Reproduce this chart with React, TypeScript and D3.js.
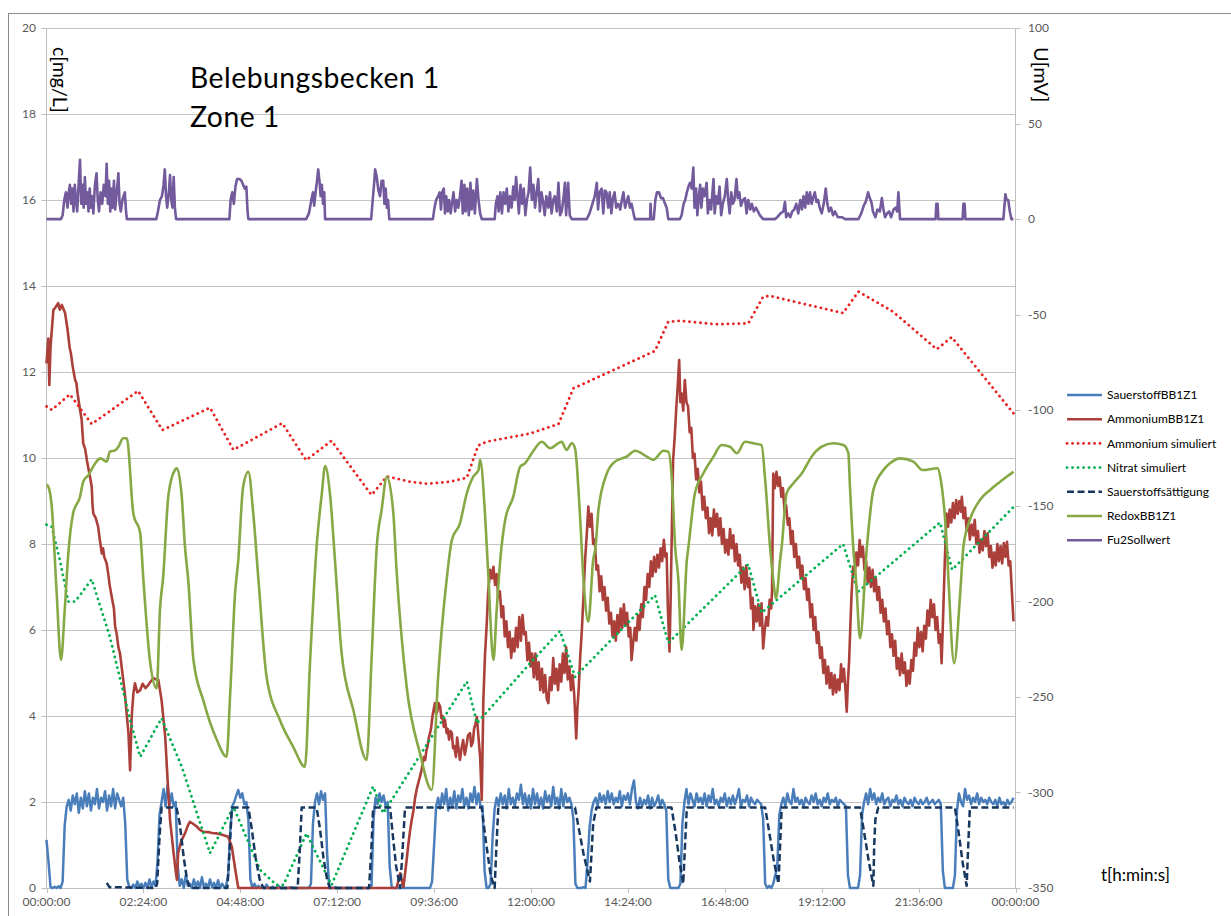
import React from 'react';
import * as d3 from 'd3';

// ---------- DATA ----------
const HOURS_STEP = 0.05; // Sauerstoff sampled every 3 min
const sauerstoffBB1Z1: number[] = [
  1.12,0.6,0.02,0.0,0.03,0.0,0.04,0.0,0.15,1.45,1.9,2.05,1.8,2.15,1.95,2.2,1.75,2.1,1.85,2.25,
  1.9,2.2,1.8,2.1,1.95,2.3,1.85,2.1,2.0,2.25,1.8,2.15,1.9,2.3,1.85,2.2,2.05,1.9,2.1,1.5,
  0.2,0.02,0.0,0.08,0.0,0.15,0.02,0.1,0.0,0.12,0.0,0.2,0.02,0.15,0.05,0.6,1.7,2.0,2.3,1.9,
  2.4,1.95,2.2,1.9,2.0,0.5,0.05,0.2,0.0,0.3,0.05,0.1,0.0,0.2,0.02,0.15,0.0,0.25,0.02,0.1,
  0.0,0.2,0.02,0.12,0.0,0.18,0.0,0.1,0.02,0.05,0.3,1.3,1.9,2.0,2.15,2.28,2.1,2.2,1.95,2.0,
  1.6,0.2,0.0,0.1,0.0,0.05,0.0,0.02,0.0,0.08,0.0,0.0,0.03,0.0,0.0,0.05,0.0,0.0,0.0,0.0,
  0.0,0.02,0.0,0.0,0.0,0.0,0.0,0.0,0.0,0.0,0.0,0.1,1.5,2.0,2.2,1.95,2.25,2.05,2.2,0.8,
  0.05,0.0,0.0,0.02,0.0,0.0,0.0,0.0,0.0,0.0,0.0,0.0,0.0,0.0,0.0,0.0,0.0,0.0,0.0,0.0,
  0.0,0.05,1.6,2.1,1.95,2.2,2.0,2.15,1.9,2.0,0.5,0.02,0.0,0.0,0.0,0.0,0.0,0.0,0.0,0.0,
  0.0,0.0,0.0,0.0,0.0,0.0,0.0,0.0,0.0,0.0,0.0,0.15,1.0,1.9,2.1,1.85,2.2,1.95,2.3,1.8,
  2.1,1.9,2.25,1.85,2.15,2.0,2.3,1.9,2.1,1.85,2.2,2.0,2.35,1.95,2.2,1.9,1.9,0.4,0.0,0.0,
  0.1,1.2,1.85,2.1,1.9,2.2,1.95,2.15,1.85,2.3,1.95,2.1,1.9,2.2,2.05,2.4,1.95,2.2,1.9,2.15,
  1.85,2.3,1.95,2.2,1.9,2.1,1.85,2.25,2.0,2.15,1.9,2.35,1.95,2.1,1.85,2.3,1.9,2.2,2.0,2.1,
  1.95,1.6,0.1,0.0,0.0,0.0,0.02,0.0,0.6,1.4,1.8,2.0,2.1,1.9,2.2,2.0,2.15,1.95,2.25,2.0,
  2.2,1.95,2.1,2.0,2.25,1.9,2.15,2.05,2.2,1.95,2.3,2.5,2.0,1.85,2.1,1.9,2.05,1.95,2.15,1.85,
  2.1,1.9,2.0,2.15,1.9,2.05,1.95,1.8,0.2,0.0,0.0,0.0,0.0,0.0,0.1,1.5,2.0,2.3,1.95,2.2,
  2.05,1.9,2.2,2.0,2.1,1.95,2.2,1.9,2.15,2.0,2.3,1.95,2.05,1.9,2.1,2.0,2.2,1.9,2.1,1.95,
  2.15,1.95,2.1,2.3,1.9,2.05,2.0,2.15,1.9,2.1,2.0,1.95,2.05,2.0,1.95,1.6,0.1,0.0,0.05,0.0,
  0.1,0.3,0.5,1.7,1.95,2.1,1.9,2.2,2.0,1.95,2.3,2.0,2.1,1.95,2.05,1.9,2.1,2.0,1.95,2.15,
  2.0,2.2,1.95,2.05,1.9,2.1,2.0,2.2,1.95,2.05,2.0,2.1,1.9,2.05,2.0,1.95,1.9,0.3,0.0,0.0,
  0.0,0.0,0.0,0.3,1.7,2.0,2.2,1.95,2.3,2.05,2.2,1.95,2.1,2.0,2.2,1.95,2.05,2.1,1.9,2.05,
  2.0,2.15,1.95,2.05,1.9,2.1,2.0,1.95,2.05,1.9,2.1,2.0,1.95,2.05,1.95,2.0,2.1,1.95,2.0,2.05,
  1.95,2.0,2.05,1.95,0.4,0.0,0.0,0.0,0.0,0.0,0.3,1.8,2.2,2.0,1.9,2.3,2.05,2.15,1.95,2.1,
  2.0,2.2,1.95,2.1,2.0,2.05,1.95,2.1,2.0,1.95,2.05,1.9,2.1,1.95,2.0,1.9,2.05,1.95,2.0,2.1,
];

// [hour, mg/L]
const ammoniumBB1Z1: [number, number][] = [
  [0.00,12.2],[0.045,12.78],[0.07,11.7],[0.10,12.59],[0.17,13.44],[0.22,13.5],[0.29,13.6],[0.33,13.45],[0.38,13.56],[0.46,13.37],[0.52,13.0],
  [0.57,12.59],[0.61,12.4],[0.65,12.12],[0.71,11.81],[0.74,11.75],[0.77,11.5],[0.83,11.12],[0.87,10.9],[0.91,10.34],[0.96,10.2],[1.00,9.95],[1.05,9.7],
  [1.09,9.5],[1.12,9.33],[1.14,8.9],[1.16,8.71],[1.22,8.6],[1.28,8.4],[1.32,8.1],[1.37,7.78],[1.40,7.9],[1.43,7.7],[1.49,7.55],[1.53,7.3],
  [1.57,7.01],[1.63,6.7],[1.67,6.5],[1.70,6.08],[1.74,5.9],[1.78,5.6],[1.82,5.46],[1.88,5.0],[1.94,4.53],[1.99,4.0],[2.03,3.6],
  [2.07,2.74],[2.11,3.98],[2.15,4.5],[2.19,4.76],[2.25,4.55],[2.32,4.6],[2.38,4.75],[2.45,4.65],[2.52,4.72],[2.58,4.8],
  [2.65,4.88],[2.71,4.85],[2.77,4.84],[2.85,4.37],[2.94,3.52],[3.00,2.5],[3.06,1.58],[3.14,0.88],[3.20,0.4],[3.23,0.19],
  [3.26,0.81],[3.34,1.1],[3.43,1.27],[3.50,1.45],[3.55,1.54],[3.62,1.5],[3.72,1.43],[3.80,1.35],[3.88,1.31],[4.00,1.3],
  [4.10,1.28],[4.22,1.27],[4.35,1.24],[4.50,1.19],[4.59,0.96],[4.68,0.4],[4.75,0.0],[8.67,0.0],[8.76,0.34],[8.84,0.02],
  [8.92,0.65],[8.96,1.0],[9.00,1.3],[9.04,1.55],[9.09,1.81],[9.13,2.1],[9.17,2.3],[9.21,2.45],[9.25,2.59],[9.29,2.75],[9.32,2.9],
  [9.35,3.05],[9.38,2.98],[9.41,3.2],[9.44,3.3],[9.47,3.5],[9.50,3.6],[9.53,3.75],[9.56,4.0],[9.59,4.15],[9.62,4.3],[9.65,4.05],
  [9.68,4.1],[9.71,4.3],[9.75,4.22],[9.78,3.95],[9.81,4.0],[9.84,3.75],[9.87,3.91],[9.91,3.6],[9.94,3.7],[9.97,3.45],[10.01,3.65],
  [10.04,3.6],[10.07,3.25],[10.10,3.3],[10.14,3.05],[10.17,3.5],[10.21,3.2],[10.24,2.98],[10.28,3.25],[10.32,3.44],[10.36,3.1],
  [10.40,3.3],[10.44,3.55],[10.49,3.6],[10.52,3.3],[10.56,3.4],[10.59,3.7],[10.62,3.8],[10.66,3.98],[10.70,3.5],[10.74,3.05],
  [10.78,2.05],[10.80,3.2],[10.82,4.37],[10.86,5.4],[10.90,6.08],[10.94,6.9],[10.99,7.40],[11.03,7.2],
  [11.07,7.47],[11.11,7.05],[11.15,7.3],[11.19,6.75],[11.23,6.9],[11.27,6.3],[11.31,6.55],[11.35,5.85],[11.39,6.2],[11.43,5.6],
  [11.47,5.95],[11.51,5.35],[11.55,5.8],[11.59,5.5],[11.63,6.05],[11.67,5.6],[11.71,6.3],[11.75,5.75],[11.79,6.35],[11.83,5.9],
  [11.87,5.95],[11.91,5.3],[11.95,5.7],[11.99,5.15],[12.03,5.45],[12.07,4.9],[12.11,5.45],[12.15,4.85],[12.19,5.25],[12.23,4.6],
  [12.27,5.1],[12.31,4.55],[12.35,4.95],[12.39,4.4],[12.43,4.3],[12.47,4.9],[12.51,4.6],[12.55,5.35],[12.59,4.75],[12.63,5.1],
  [12.67,4.6],[12.71,5.2],[12.75,4.8],[12.79,5.45],[12.83,5.0],[12.87,5.6],[12.91,4.85],[12.95,5.15],[12.99,4.6],[13.03,4.95],
  [13.07,4.5],[13.10,3.9],[13.12,3.48],[13.15,4.2],[13.18,4.6],[13.22,5.4],[13.26,6.0],[13.30,6.8],[13.34,7.63],[13.38,8.2],
  [13.42,8.87],[13.46,8.4],[13.50,8.7],[13.54,8.0],[13.58,8.1],[13.62,7.4],[13.66,7.5],[13.70,6.9],[13.74,7.25],[13.78,6.7],
  [13.82,7.0],[13.86,6.45],[13.90,6.75],[13.94,6.15],[13.98,6.4],[14.02,5.85],[14.06,6.2],[14.10,5.75],[14.14,6.35],[14.18,5.95],
  [14.22,6.5],[14.26,6.05],[14.30,6.6],[14.34,6.1],[14.38,6.4],[14.42,5.85],[14.46,6.05],[14.49,5.30],[14.53,5.7],[14.57,6.05],
  [14.61,5.75],[14.65,6.35],[14.69,6.0],[14.73,6.6],[14.77,6.3],[14.81,7.0],[14.85,6.7],[14.89,7.3],[14.93,7.0],[14.97,7.6],
  [15.01,7.25],[15.05,7.7],[15.09,7.35],[15.13,7.75],[15.17,7.45],[15.21,7.9],[15.25,7.6],[15.29,8.1],[15.33,7.7],[15.36,7.78],
  [15.39,6.5],[15.43,5.50],[15.46,6.8],[15.49,8.4],[15.52,9.95],[15.56,10.5],[15.60,11.19],[15.63,11.6],[15.67,12.28],[15.70,11.3],
  [15.73,11.50],[15.77,11.1],[15.81,11.81],[15.85,11.3],[15.89,11.2],[15.93,10.6],[15.97,10.7],[16.01,10.0],[16.05,10.1],[16.09,9.5],
  [16.13,9.75],[16.17,9.2],[16.21,9.45],[16.25,8.8],[16.29,9.1],[16.33,8.6],[16.37,8.85],[16.41,8.25],[16.45,8.6],[16.49,8.2],
  [16.53,8.8],[16.57,8.4],[16.61,8.7],[16.65,8.2],[16.69,8.6],[16.73,8.0],[16.77,8.35],[16.81,7.8],[16.85,8.1],[16.89,7.75],
  [16.93,8.35],[16.97,7.9],[17.01,8.2],[17.05,7.6],[17.09,8.0],[17.13,7.5],[17.17,7.75],[17.21,7.1],[17.25,7.45],[17.29,6.95],
  [17.33,7.5],[17.37,7.0],[17.41,7.2],[17.45,6.5],[17.49,6.75],[17.51,6.00],[17.55,6.55],[17.59,6.2],[17.63,6.6],[17.67,6.1],
  [17.71,6.62],[17.75,5.57],[17.79,6.0],[17.83,6.3],[17.87,6.1],[17.91,6.7],[17.95,6.5],[17.97,6.93],[18.00,9.64],[18.04,9.3],
  [18.08,9.68],[18.12,9.35],[18.16,9.55],[18.20,9.1],[18.24,9.3],[18.28,8.75],[18.32,8.9],[18.36,8.45],[18.40,8.6],[18.44,8.0],
  [18.48,8.3],[18.52,7.7],[18.56,8.0],[18.60,7.45],[18.64,7.7],[18.68,7.2],[18.72,7.5],[18.76,6.95],[18.80,7.2],[18.84,6.7],
  [18.88,6.95],[18.92,6.3],[18.96,6.6],[19.00,6.0],[19.04,6.3],[19.08,5.7],[19.12,5.95],[19.16,5.35],[19.20,5.6],[19.24,5.0],
  [19.28,5.3],[19.32,4.75],[19.36,5.15],[19.40,4.65],[19.44,5.0],[19.48,4.5],[19.52,4.95],[19.56,4.55],[19.60,4.85],[19.64,4.6],
  [19.68,5.2],[19.71,4.8],[19.75,5.1],[19.79,4.6],[19.82,4.10],[19.85,4.8],[19.88,5.30],[19.91,6.1],[19.94,6.85],[19.98,7.47],
  [20.02,7.3],[20.06,7.8],[20.10,7.5],[20.14,8.09],[20.18,7.7],[20.22,7.94],[20.26,7.4],[20.30,7.6],[20.34,7.1],[20.38,7.45],
  [20.42,7.0],[20.46,7.40],[20.50,6.9],[20.54,7.2],[20.58,6.7],[20.62,7.0],[20.66,6.4],[20.70,6.7],[20.74,6.2],[20.78,6.5],
  [20.82,5.9],[20.86,6.2],[20.90,5.6],[20.94,5.9],[20.98,5.4],[21.02,5.75],[21.06,5.1],[21.10,5.35],[21.14,4.95],[21.18,5.45],
  [21.22,5.0],[21.26,5.25],[21.30,4.7],[21.34,5.05],[21.38,4.75],[21.42,5.3],[21.46,5.05],[21.50,5.7],[21.54,5.4],[21.58,6.05],
  [21.62,5.6],[21.66,5.95],[21.70,5.5],[21.74,6.1],[21.78,5.8],[21.82,6.45],[21.86,6.1],[21.90,6.7],[21.94,6.3],[21.98,6.6],
  [22.02,6.0],[22.06,6.3],[22.10,5.7],[22.14,5.9],[22.17,5.23],[22.21,6.4],[22.25,7.63],[22.29,8.71],[22.33,8.4],[22.37,8.8],
  [22.41,8.5],[22.45,8.95],[22.49,8.6],[22.53,9.02],[22.57,8.7],[22.61,9.0],[22.65,8.75],[22.67,9.10],[22.71,8.6],[22.75,8.85],
  [22.79,8.3],[22.83,8.6],[22.87,8.1],[22.91,8.45],[22.95,8.2],[22.99,8.56],[23.03,8.0],[23.07,8.3],[23.11,7.8],[23.15,8.1],
  [23.19,7.85],[23.23,8.3],[23.27,7.95],[23.31,8.25],[23.35,7.7],[23.39,7.95],[23.43,7.45],[23.47,7.8],[23.51,7.5],[23.55,8.0],
  [23.59,7.6],[23.63,7.95],[23.67,7.55],[23.71,8.02],[23.75,7.7],[23.79,8.05],[23.83,7.5],[23.87,7.6],[23.91,6.9],[23.95,6.2],
];

const ammoniumSimuliert: [number, number][] = [
  [0.0,11.2],[0.13,11.12],[0.58,11.48],[1.12,10.79],[2.27,11.56],[2.87,10.65],[4.05,11.17],[4.63,10.19],[5.84,10.81],[6.43,9.95],
  [7.06,10.40],[8.05,9.14],[8.43,9.57],[9.0,9.45],[9.42,9.40],[10.0,9.45],[10.41,9.54],[10.69,10.29],[10.90,10.38],[11.98,10.57],
  [12.68,10.79],[13.05,11.62],[13.96,12.01],[15.07,12.49],[15.40,13.17],[15.69,13.19],[16.60,13.11],[17.38,13.13],[17.75,13.75],[17.92,13.77],
  [19.73,13.37],[20.11,13.87],[20.97,13.40],[22.05,12.53],[22.42,12.81],[23.95,11.04],
];

const nitratSimuliert: [number, number][] = [
  [0.0,8.45],[0.13,8.40],[0.33,7.63],[0.54,6.66],[0.71,6.66],[1.12,7.18],[1.57,5.84],[2.07,3.91],[2.32,3.05],[2.85,3.95],
  [3.35,2.82],[4.05,0.81],[4.63,1.89],[5.29,0.42],[5.70,0.07],[5.87,0.07],[6.44,1.27],[7.06,0.07],[8.09,2.36],[8.34,1.74],
  [10.41,4.80],[10.66,3.83],[11.98,5.23],[12.72,5.98],[13.09,4.91],[15.07,6.81],[15.40,5.70],[17.38,7.53],[17.71,6.40],[19.73,8.0],
  [20.10,6.89],[22.13,8.5],[22.43,7.4],[23.95,8.86],
];

const sauerstoffsaettigung: [number, number][] = [
  [1.49,0.12],[1.56,0.02],[2.70,0.0],[2.74,0.1],[2.80,1.2],[2.85,1.87],[3.22,1.87],[3.30,1.5],[3.40,0.7],[3.48,0.2],
  [3.55,0.0],[4.48,0.0],[4.53,0.8],[4.59,1.87],[5.00,1.87],[5.08,1.4],[5.18,0.7],[5.28,0.2],[5.37,0.0],[6.22,0.0],
  [6.27,0.8],[6.32,1.87],[6.69,1.87],[6.77,1.4],[6.86,0.7],[6.95,0.2],[7.02,0.0],[7.99,0.0],[8.04,0.8],[8.09,1.87],
  [8.51,1.87],[8.58,1.2],[8.66,0.5],[8.76,0.0],[8.82,0.9],[8.88,1.87],[10.78,1.87],[10.88,1.1],[11.0,0.3],[11.10,0.0],
  [11.14,0.9],[11.19,1.87],[13.09,1.87],[13.18,1.4],[13.30,0.8],[13.46,0.15],[13.54,1.5],[13.62,1.87],[15.48,1.87],[15.58,1.3],
  [15.68,0.6],[15.77,0.1],[15.81,0.9],[15.86,1.87],[17.80,1.87],[17.90,1.3],[18.02,0.6],[18.13,0.1],[18.17,1.0],[18.21,1.87],
  [20.15,1.87],[20.25,1.3],[20.37,0.6],[20.48,0.05],[20.50,1.0],[20.53,1.6],[20.60,1.87],[22.50,1.87],[22.59,1.3],[22.69,0.6],
  [22.79,0.05],[22.83,1.0],[22.87,1.87],[23.95,1.87],
];

// [hour, mV]
const redoxBB1Z1: [number, number][] = [
  [0.0,-139],[0.045,-140],[0.13,-150.5],[0.25,-195],[0.36,-230.7],[0.45,-205],[0.54,-175],[0.66,-153.9],[0.83,-145.3],[0.91,-137.4],
  [1.04,-133.9],[1.2,-128],[1.33,-125.2],[1.49,-126.9],[1.57,-121.7],[1.70,-121],[1.78,-119.1],[1.90,-114.7],[1.99,-114.7],[2.15,-153.9],
  [2.32,-164.4],[2.40,-188.8],[2.56,-230.7],[2.73,-245.5],[2.81,-204.5],[2.89,-187.1],[3.02,-144.4],[3.18,-131.3],[3.23,-130.4],[3.35,-145.3],
  [3.43,-171.4],[3.51,-188.8],[3.64,-230.7],[3.88,-251.6],[4.22,-272.6],[4.46,-281.3],[4.55,-248.1],[4.67,-195.8],[4.75,-178.4],[4.87,-140],
  [5.00,-132.2],[5.12,-153.9],[5.25,-188.8],[5.45,-239.4],[5.78,-262.1],[6.11,-276.1],[6.40,-286.5],[6.53,-230.7],[6.69,-171.4],[6.82,-143.5],
  [6.90,-129.2],[7.02,-143.5],[7.15,-180.1],[7.31,-227.2],[7.60,-256.9],[7.93,-283.0],[8.05,-230.7],[8.18,-171.4],[8.30,-152.2],[8.43,-134.8],
  [8.59,-153.9],[8.67,-183.6],[8.92,-244.7],[9.25,-279.5],[9.54,-298.7],[9.70,-239.4],[9.91,-188.8],[10.04,-167.9],[10.24,-159.2],[10.41,-143.5],
  [10.57,-134.8],[10.70,-131.3],[10.74,-126.0],[10.86,-153.9],[10.94,-185.3],[11.07,-230.7],[11.15,-204.5],[11.24,-178],[11.36,-157.4],[11.56,-145.3],
  [11.73,-129.6],[11.85,-127.8],[12.02,-122.5],[12.27,-116.5],[12.47,-119.9],[12.76,-116.5],[12.88,-120.8],[13.01,-117.3],[13.09,-119.9],[13.21,-153.9],
  [13.30,-188.8],[13.42,-210.7],[13.54,-178.4],[13.60,-171.4],[13.67,-152.2],[13.88,-133.0],[14.08,-126.9],[14.37,-124.3],[14.58,-121.2],[14.87,-124.3],
  [15.03,-126.0],[15.28,-121.2],[15.40,-121.7],[15.49,-136.5],[15.57,-171.4],[15.65,-188.8],[15.73,-225.5],[15.86,-178.4],[15.90,-171.4],[16.06,-143.5],
  [16.27,-133.0],[16.52,-124.3],[16.72,-118.2],[16.93,-119.1],[17.10,-122.5],[17.30,-116.5],[17.51,-117.3],[17.71,-118.2],[17.80,-136.5],[17.92,-171.4],
  [18.00,-188.8],[18.07,-198.4],[18.17,-178.4],[18.21,-171.4],[18.33,-143.5],[18.50,-138.2],[18.71,-133.0],[18.95,-124.3],[19.20,-119.1],[19.49,-117.3],
  [19.74,-118.2],[19.86,-122.5],[19.90,-140],[19.98,-171.4],[20.05,-188.8],[20.15,-219.3],[20.32,-171.4],[20.48,-141.7],[20.73,-131.3],[20.89,-127.8],
  [21.14,-125.2],[21.47,-126.9],[21.70,-131.3],[22.07,-130.4],[22.15,-136.5],[22.30,-171.4],[22.34,-188.8],[22.48,-232.4],[22.63,-195.8],[22.71,-171.4],
  [22.87,-157.4],[23.12,-147.0],[23.37,-141.7],[23.62,-137.4],[23.78,-134.8],[23.95,-132.2],
];

const fu2Sollwert: [number, number][] = [
  [0,0],[0.36,0],[0.40,2],[0.44,10],[0.48,14],[0.52,6],[0.55,14],[0.58,18],[0.61,8],[0.64,16],[0.67,4],[0.70,18],[0.73,10],[0.76,4],
  [0.80,20],[0.83,31],[0.86,8],[0.89,18],[0.92,6],[0.95,22],[0.98,8],[1.01,14],[1.04,4],[1.07,16],[1.10,6],[1.13,12],[1.16,3],[1.20,18],
  [1.24,24],[1.27,10],[1.30,4],[1.34,14],[1.38,8],[1.42,18],[1.46,12],[1.49,29],[1.52,8],[1.55,20],[1.58,4],[1.61,16],[1.64,6],[1.67,20],
  [1.70,5],[1.74,14],[1.78,24],[1.81,8],[1.84,4],[1.88,10],[1.91,12],[1.94,14],[1.97,4],[1.99,0],
  [2.72,0],[2.76,4],[2.81,10],[2.86,12],[2.90,18],[2.93,26],[2.96,12],[2.99,6],[3.03,14],[3.06,23],[3.09,10],[3.12,6],[3.15,22],[3.18,6],[3.21,0],
  [4.53,0],[4.56,10],[4.60,14],[4.64,8],[4.68,17],[4.72,21],[4.78,21],[4.83,20],[4.87,18],[4.91,16],[4.95,17],[4.98,4],[5.00,0],
  [6.43,0],[6.50,3],[6.56,10],[6.60,14],[6.63,7],[6.67,15],[6.70,20],[6.73,26],[6.76,20],[6.79,12],[6.82,18],[6.85,8],[6.88,14],[6.90,0],
  [8.04,0],[8.08,10],[8.12,20],[8.14,26],[8.18,22],[8.22,15],[8.26,12],[8.30,20],[8.34,20],[8.37,8],[8.40,16],[8.43,6],[8.46,10],[8.49,0],
  [9.57,0],[9.61,6],[9.65,10],[9.70,12],[9.74,14],[9.77,5],[9.80,14],[9.84,16],[9.87,3],[9.90,12],[9.94,4],[9.97,10],[10.01,3],[10.04,8],
  [10.08,14],[10.12,4],[10.16,10],[10.20,6],[10.24,12],[10.28,20],[10.31,3],[10.35,18],[10.38,4],[10.42,16],[10.46,2],[10.50,19],[10.53,5],
  [10.57,15],[10.61,3],[10.66,21],[10.70,10],[10.74,3],[10.78,0],
  [11.10,0],[11.13,8],[11.17,12],[11.20,4],[11.24,14],[11.28,3],[11.32,14],[11.36,8],[11.40,16],[11.44,4],[11.48,12],[11.52,6],[11.56,17],
  [11.60,10],[11.63,22],[11.66,14],[11.70,3],[11.74,18],[11.78,8],[11.82,16],[11.86,2],[11.90,10],[11.94,14],[11.98,27],[12.02,10],[12.06,18],
  [12.10,6],[12.14,14],[12.18,21],[12.22,4],[12.26,14],[12.30,9],[12.34,2],[12.38,12],[12.43,6],[12.47,14],[12.51,3],[12.55,10],[12.59,12],
  [12.64,4],[12.68,19],[12.72,2],[12.76,4],[12.80,10],[12.84,19],[12.87,2],[12.92,19],[12.96,2],[13.01,0],
  [13.38,0],[13.45,3],[13.52,8],[13.58,12],[13.63,19],[13.66,5],[13.70,14],[13.75,16],[13.79,3],[13.83,15],[13.87,14],[13.91,6],[13.95,14],
  [13.99,3],[14.03,11],[14.07,14],[14.11,6],[14.16,8],[14.21,5],[14.25,10],[14.29,14],[14.33,6],[14.37,9],[14.41,12],[14.45,6],[14.49,8],
  [14.53,4],[14.57,0],[14.95,0],[14.96,8],[14.98,0],[15.04,0],[15.08,10],[15.12,14],[15.17,14],[15.22,11],[15.27,11],[15.32,8],[15.36,6],[15.40,0],
  [15.69,0],[15.73,2],[15.78,8],[15.82,10],[15.86,14],[15.90,17],[15.94,19],[15.98,16],[16.02,27],[16.05,6],[16.09,16],[16.12,2],[16.16,12],
  [16.19,18],[16.22,6],[16.26,16],[16.30,12],[16.35,19],[16.38,3],[16.42,10],[16.46,5],[16.52,21],[16.55,3],[16.59,12],[16.63,8],[16.67,17],
  [16.71,2],[16.75,8],[16.80,12],[16.85,21],[16.88,11],[16.92,3],[16.96,14],[17.00,8],[17.04,10],[17.09,21],[17.12,11],[17.16,14],[17.20,7],
  [17.25,10],[17.30,11],[17.34,3],[17.38,10],[17.43,5],[17.47,8],[17.52,4],[17.57,6],[17.62,4],[17.67,2],[17.75,0],
  [18.04,0],[18.10,1],[18.18,3],[18.25,4],[18.29,9],[18.32,1],[18.37,3],[18.42,1],[18.47,4],[18.52,5],[18.57,8],[18.62,3],[18.67,10],
  [18.71,5],[18.75,12],[18.79,6],[18.83,14],[18.87,8],[18.91,14],[18.95,8],[19.00,12],[19.03,14],[19.07,9],[19.11,10],[19.15,6],[19.20,3],
  [19.25,8],[19.30,16],[19.34,8],[19.38,4],[19.43,6],[19.48,2],[19.53,4],[19.60,1],[19.70,1],[19.78,0],
  [20.11,0],[20.18,3],[20.24,7],[20.29,9],[20.35,14],[20.39,11],[20.43,9],[20.47,4],[20.53,1],[20.58,5],[20.64,4],[20.69,11],[20.73,5],
  [20.77,1],[20.82,3],[20.87,4],[20.92,1],[20.98,5],[21.03,6],[21.07,4],[21.10,14],[21.14,0],
  [22.02,0],[22.04,8],[22.07,8],[22.09,0],[22.69,0],[22.71,8],[22.74,8],[22.76,0],
  [23.70,0],[23.73,8],[23.75,13],[23.78,10],[23.82,10],[23.86,4],[23.90,0],[23.95,0],
];

const yLeftTicks = [0, 2, 4, 6, 8, 10, 12, 14, 16, 18, 20];
const yRightTicks = [-350, -300, -250, -200, -150, -100, -50, 0, 50, 100];
const xTickHours = [0, 2.4, 4.8, 7.2, 9.6, 12, 14.4, 16.8, 19.2, 21.6, 24];
const xTickLabels = ['00:00:00','02:24:00','04:48:00','07:12:00','09:36:00','12:00:00','14:24:00','16:48:00','19:12:00','21:36:00','00:00:00'];
const seriesNames = ['SauerstoffBB1Z1','AmmoniumBB1Z1','Ammonium simuliert','Nitrat simuliert','Sauerstoffsättigung','RedoxBB1Z1','Fu2Sollwert'];

// ---------- STYLES ----------
const STYLE: Record<string, { color: string; width: number; dash?: string; cap?: 'round' | 'butt' }> = {
  'SauerstoffBB1Z1': { color: '#4a7ebb', width: 2.5 },
  'AmmoniumBB1Z1': { color: '#ab3f3a', width: 2.6 },
  'Ammonium simuliert': { color: '#e62222', width: 2.8, dash: '0.1 5.4', cap: 'round' },
  'Nitrat simuliert': { color: '#00b050', width: 2.8, dash: '0.1 5.4', cap: 'round' },
  'Sauerstoffsättigung': { color: '#17375e', width: 2.5, dash: '7 3.5' },
  'RedoxBB1Z1': { color: '#86a845', width: 2.6 },
  'Fu2Sollwert': { color: '#725a9c', width: 2.6 },
};

const FONT = "Lato, 'Open Sans', sans-serif";

export default function App() {
  const W = 1231, H = 916;
  const x = d3.scaleLinear().domain([0, 24]).range([46.5, 1015.5]);
  const yL = d3.scaleLinear().domain([0, 20]).range([888, 28]);
  const yR = d3.scaleLinear().domain([-350, 100]).range([888, 28]);

  const lineL = d3.line<[number, number]>().x(d => x(d[0])).y(d => yL(d[1]));
  const lineR = d3.line<[number, number]>().x(d => x(d[0])).y(d => yR(d[1]));
  const lineRSmooth = d3.line<[number, number]>().x(d => x(d[0])).y(d => yR(d[1])).curve(d3.curveMonotoneX);

  const sauerPts: [number, number][] = sauerstoffBB1Z1.map((v, i) => [i * HOURS_STEP, v]);

  const paths: { name: string; d: string }[] = [
    { name: seriesNames[0], d: lineL(sauerPts) || '' },
    { name: seriesNames[1], d: lineL(ammoniumBB1Z1) || '' },
    { name: seriesNames[2], d: lineL(ammoniumSimuliert) || '' },
    { name: seriesNames[3], d: lineL(nitratSimuliert) || '' },
    { name: seriesNames[4], d: lineL(sauerstoffsaettigung) || '' },
    { name: seriesNames[5], d: lineRSmooth(redoxBB1Z1) || '' },
    { name: seriesNames[6], d: lineR(fu2Sollwert) || '' },
  ];

  const [x0, x1] = x.range();
  const legendX = 1067, legendY0 = 395, legendDy = 24.2;

  return (
    <svg width={W} height={H} style={{ position: 'absolute', left: 0, top: 0, background: '#fff' }}
      fontFamily={FONT}>
      <rect x={0} y={0} width={W} height={H} fill="#fff" />
      <rect x={8.5} y={13.5} width={1240} height={920} fill="none" stroke="#8c8c8c" strokeWidth={1} />

      {yLeftTicks.map(t => (
        <line key={'g' + t} x1={x0} x2={x1} y1={Math.round(yL(t)) + 0.5} y2={Math.round(yL(t)) + 0.5}
          stroke="#c4c4c4" strokeWidth={1} />
      ))}
      <line x1={x0} x2={x0} y1={yL(20)} y2={yL(0)} stroke="#bfbfbf" strokeWidth={1} />
      <line x1={x1} x2={x1} y1={yL(20)} y2={yL(0)} stroke="#bfbfbf" strokeWidth={1} />
      <line x1={x0} x2={x1} y1={888.5} y2={888.5} stroke="#bfbfbf" strokeWidth={1} />

      {yLeftTicks.map(t => (
        <g key={'l' + t}>
          <line x1={x0 - 5} x2={x0} y1={Math.round(yL(t)) + 0.5} y2={Math.round(yL(t)) + 0.5} stroke="#bfbfbf" />
          <text x={36} y={yL(t)} dy="0.35em" textAnchor="end" fontSize={12} fill="#595959">{t}</text>
        </g>
      ))}
      {yRightTicks.map(t => (
        <g key={'r' + t}>
          <line x1={x1} x2={x1 + 5} y1={Math.round(yR(t)) + 0.5} y2={Math.round(yR(t)) + 0.5} stroke="#bfbfbf" />
          <text x={1028} y={yR(t)} dy="0.35em" textAnchor="start" fontSize={12} fill="#595959">{t}</text>
        </g>
      ))}
      {xTickHours.map((h, i) => (
        <g key={'x' + i}>
          <line x1={Math.round(x(h)) + 0.5} x2={Math.round(x(h)) + 0.5} y1={888} y2={893} stroke="#bfbfbf" />
          <text x={x(h)} y={906} textAnchor="middle" fontSize={12} fill="#595959">{xTickLabels[i]}</text>
        </g>
      ))}

      {paths.map(p => {
        const s = STYLE[p.name];
        return (
          <path key={p.name} d={p.d} fill="none" stroke={s.color} strokeWidth={s.width}
            strokeDasharray={s.dash} strokeLinecap={s.cap || 'butt'} strokeLinejoin="round" />
        );
      })}

      <text x={190} y={88} fontSize={28.3} letterSpacing={0.5} fill="#000">Belebungsbecken 1</text>
      <text x={190} y={127} fontSize={28.3} letterSpacing={0.5} fill="#000">Zone 1</text>
      <text transform="translate(53,47) rotate(90)" fontSize={19.5} fill="#000">c[mg/L]</text>
      <text transform="translate(1034,47) rotate(90)" fontSize={20} fill="#000">U[mV]</text>
      <text x={1101} y={881} fontSize={17} fill="#000">t[h:min:s]</text>

      {seriesNames.map((n, i) => {
        const s = STYLE[n];
        const yy = legendY0 + i * legendDy;
        return (
          <g key={'lg' + n}>
            <line x1={legendX} x2={legendX + 35} y1={yy} y2={yy} stroke={s.color} strokeWidth={s.width}
              strokeDasharray={s.dash} strokeLinecap={s.cap || 'butt'} />
            <text x={legendX + 40} y={yy} dy="0.35em" fontSize={12} fill="#000">{n}</text>
          </g>
        );
      })}
    </svg>
  );
}
